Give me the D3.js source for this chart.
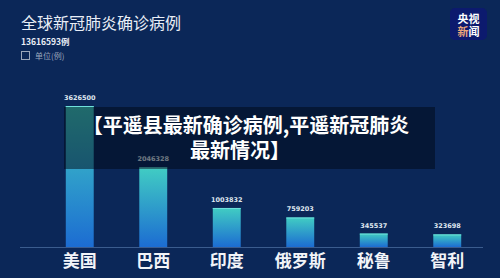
<!DOCTYPE html>
<html>
<head>
<meta charset="utf-8">
<script src="https://cdn.jsdelivr.net/npm/d3@7"></script>
<style>
  html, body { margin: 0; padding: 0; background: #0b2758; }
  svg { display: block; }
</style>
</head>
<body>
<svg id="chart"></svg>
<script>
var width = 500,
    height = 278;

// data
var countries = ['美国', '巴西', '印度', '俄罗斯', '秘鲁', '智利'];
var cases = [3626500, 2046328, 1003832, 759203, 345537, 323698];
var totalCases = '13616593例';

var svg = d3.select('#chart').attr('width', width).attr('height', height)
    .attr('viewBox', '0 0 ' + width + ' ' + height);

var defs = svg.append('defs');
var grad = defs.append('linearGradient').attr('id', 'barGrad')
    .attr('x1', 0).attr('y1', 0).attr('x2', 0).attr('y2', 1);
grad.append('stop').attr('offset', '0%').attr('stop-color', '#41cdc3');
grad.append('stop').attr('offset', '100%').attr('stop-color', '#1c6cd2');

svg.append('rect').attr('width', width).attr('height', height).attr('fill', '#0b2758');

// title block
svg.append('text').attr('x', 21).attr('y', 29)
    .attr('font-family', 'Noto Sans CJK SC, sans-serif')
    .attr('font-size', '16px').attr('fill', '#e9eef6')
    .text('全球新冠肺炎确诊病例');
svg.append('text').attr('x', 21).attr('y', 45)
    .attr('font-family', 'Noto Sans CJK SC, sans-serif')
    .attr('font-size', '8.5px').attr('font-weight', 700).attr('fill', '#e9eef6')
    .text(totalCases);
svg.append('rect').attr('x', 21.5).attr('y', 51.5).attr('width', 8).attr('height', 8)
    .attr('fill', 'none').attr('stroke', '#9aa6bc').attr('stroke-width', 1);
svg.append('text').attr('x', 35).attr('y', 59)
    .attr('font-family', 'Noto Sans CJK SC, sans-serif')
    .attr('font-size', '8px').attr('fill', '#9aa6bc')
    .text('单位(例)');

// logo
var logo = svg.append('g').attr('transform', 'translate(450,8)');
logo.append('rect').attr('width', 37).attr('height', 32).attr('rx', 5).attr('fill', '#0c1a6e');
logo.append('text').attr('x', 18.5).attr('y', 15).attr('text-anchor', 'middle')
    .attr('font-family', 'Noto Sans CJK SC, sans-serif').attr('font-size', '11px')
    .attr('font-weight', 700).attr('fill', '#ffffff').text('央视');
var l2 = logo.append('text').attr('x', 18.5).attr('y', 28).attr('text-anchor', 'middle')
    .attr('font-family', 'Noto Sans CJK SC, sans-serif').attr('font-size', '11px')
    .attr('font-weight', 700);
l2.append('tspan').attr('fill', '#eaa57a').text('新');
l2.append('tspan').attr('fill', '#ffffff').text('闻');

// scales
var x = d3.scaleBand().domain(countries).range([43, 484]).paddingInner(0.62).paddingOuter(0.31);
var y = d3.scaleLinear().domain([0, 3626500]).range([247, 106]);

// baseline
svg.append('line').attr('x1', 20).attr('x2', 483).attr('y1', 247.5).attr('y2', 247.5)
    .attr('stroke', '#3b5c8e').attr('stroke-width', 1);

var bars = svg.selectAll('.bar').data(cases).enter().append('g').attr('class', 'bar');
bars.append('rect')
    .attr('x', function(d, i) { return x(countries[i]); })
    .attr('y', function(d) { return y(d); })
    .attr('width', x.bandwidth())
    .attr('height', function(d) { return y(0) - y(d); })
    .attr('fill', 'url(#barGrad)');
bars.append('rect')
    .attr('x', function(d, i) { return x(countries[i]); })
    .attr('y', function(d) { return y(d); })
    .attr('width', x.bandwidth())
    .attr('height', 1)
    .attr('fill', '#6fe0dc');
bars.append('text')
    .attr('x', function(d, i) { return x(countries[i]) + x.bandwidth() / 2; })
    .attr('y', function(d) { return y(d) - 6; })
    .attr('text-anchor', 'middle')
    .attr('font-family', 'DejaVu Sans, sans-serif')
    .attr('font-size', '6.5px').attr('font-weight', 700)
    .attr('fill', '#dfe6ef')
    .text(function(d) { return d; });

// category labels
svg.selectAll('.cat').data(countries).enter().append('text')
    .attr('class', 'cat')
    .attr('x', function(d) { return x(d) + x.bandwidth() / 2; })
    .attr('y', 267)
    .attr('text-anchor', 'middle')
    .attr('font-family', 'Noto Sans CJK SC, sans-serif')
    .attr('font-size', '17px').attr('font-weight', 700)
    .attr('fill', '#f2f4f8')
    .text(function(d) { return d; });

// headline overlay
svg.append('rect').attr('x', 64).attr('y', 107).attr('width', 371).attr('height', 62)
    .attr('fill', '#000814').attr('fill-opacity', 0.5);
svg.append('text').attr('x', 246).attr('y', 133).attr('text-anchor', 'middle')
    .attr('font-family', 'Noto Sans CJK SC, sans-serif')
    .attr('font-size', '20px').attr('font-weight', 700).attr('fill', '#ffffff')
    .text('【平遥县最新确诊病例,平遥新冠肺炎');
svg.append('text').attr('x', 240).attr('y', 158).attr('text-anchor', 'middle')
    .attr('font-family', 'Noto Sans CJK SC, sans-serif')
    .attr('font-size', '20px').attr('font-weight', 700).attr('fill', '#ffffff')
    .text('最新情况】');
</script>
</body>
</html>
